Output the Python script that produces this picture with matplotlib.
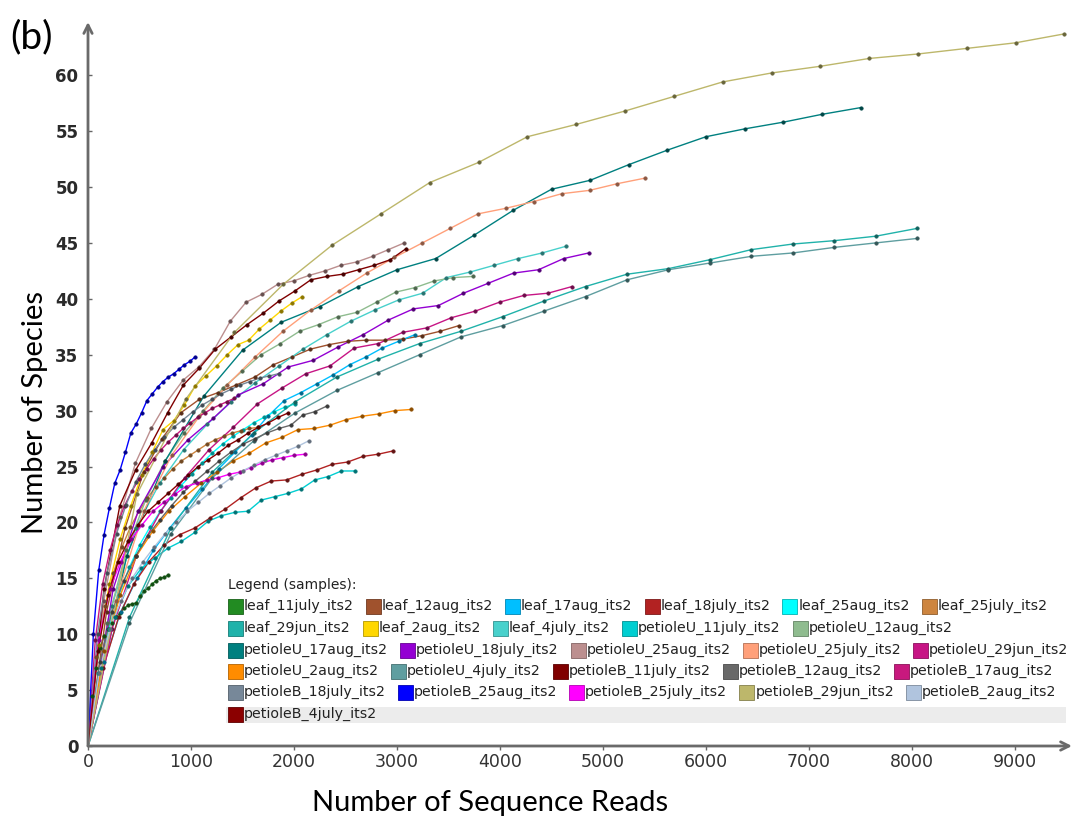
import numpy as np
import matplotlib
matplotlib.use("Agg")
import matplotlib.pyplot as plt
from matplotlib.patches import Rectangle
from matplotlib.colors import to_rgb

# sample names, legend colours and rarefaction depth (max reads) per sample
names = ["leaf_11july_its2", "leaf_12aug_its2", "leaf_17aug_its2", "leaf_18july_its2",
         "leaf_25aug_its2", "leaf_25july_its2", "leaf_29jun_its2", "leaf_2aug_its2",
         "leaf_4july_its2", "petioleU_11july_its2", "petioleU_12aug_its2",
         "petioleU_17aug_its2", "petioleU_18july_its2", "petioleU_25aug_its2",
         "petioleU_25july_its2", "petioleU_29jun_its2", "petioleU_2aug_its2",
         "petioleU_4july_its2", "petioleB_11july_its2", "petioleB_12aug_its2",
         "petioleB_17aug_its2", "petioleB_18july_its2", "petioleB_25aug_its2",
         "petioleB_25july_its2", "petioleB_29jun_its2", "petioleB_2aug_its2",
         "petioleB_4july_its2"]
colors = ["#228B22", "#A0522D", "#00BFFF", "#B22222", "#00FFFF", "#CD853F", "#20B2AA",
          "#FFD700", "#48D1CC", "#00CED1", "#8FBC8F", "#008080", "#9400D3", "#BC8F8F",
          "#FFA07A", "#C71585", "#FF8C00", "#5F9EA0", "#800000", "#696969", "#C8197E",
          "#778899", "#0000FF", "#FF00FF", "#BDB76B", "#B0C4DE", "#8B0000"]
depths = [780, 3600, 3175, 2965, 2010, 1650, 8050, 2080, 4640, 2590, 3735, 7500, 4860,
          3070, 5410, 4700, 3135, 8050, 3090, 2317, 1420, 1850, 1040, 2107, 9480, 2143, 1945]

# species observed at each of the 20 rarefaction steps
leaf_11july = [4.5, 7.0, 8.8, 9.8, 10.5, 11.0, 11.5, 11.9, 12.3, 12.6, 12.7, 12.8, 13.4, 13.9, 14.1, 14.5, 14.8, 15.0, 15.1, 15.3]
leaf_12aug = [12.0, 19.5, 24.5, 27.5, 29.8, 31.0, 31.6, 32.3, 33.0, 34.1, 34.8, 35.5, 35.9, 36.2, 36.3, 36.3, 36.4, 36.7, 37.1, 37.6]
leaf_17aug = [7.5, 12.0, 15.0, 17.5, 19.5, 21.3, 23.0, 24.8, 26.3, 27.8, 29.5, 30.9, 31.6, 32.4, 33.2, 34.1, 34.8, 35.6, 36.2, 36.8]
leaf_18july = [7.0, 11.5, 14.5, 16.5, 18.0, 18.9, 19.5, 20.4, 21.2, 22.2, 23.1, 23.7, 23.8, 24.3, 24.7, 25.2, 25.4, 25.9, 26.1, 26.4]
leaf_25aug = [6.5, 10.5, 13.5, 16.0, 18.0, 19.6, 21.0, 22.2, 23.3, 24.3, 25.3, 26.2, 27.0, 27.7, 28.3, 28.9, 29.4, 29.9, 30.3, 30.6]
leaf_25july = [8.0, 12.5, 15.5, 17.8, 19.6, 21.0, 22.2, 23.2, 24.0, 24.8, 25.5, 26.0, 26.5, 27.0, 27.4, 27.7, 28.0, 28.2, 28.4, 28.5]
leaf_29jun = [11.5, 19.5, 24.5, 28.0, 30.8, 33.0, 34.6, 36.0, 37.1, 38.4, 39.8, 41.1, 42.2, 42.7, 43.5, 44.4, 44.9, 45.2, 45.6, 46.3]
leaf_2aug = [9.0, 14.5, 18.5, 21.5, 24.2, 26.3, 28.3, 29.1, 30.5, 32.2, 33.1, 34.0, 35.0, 35.9, 36.3, 37.3, 38.1, 38.9, 39.6, 40.2]
leaf_4july = [12.5, 19.5, 23.5, 26.5, 28.8, 30.8, 32.5, 34.0, 35.5, 36.8, 38.0, 39.0, 39.9, 40.5, 41.9, 42.4, 43.0, 43.6, 44.1, 44.7]
petioleU_11july = [7.0, 11.5, 14.3, 15.9, 16.8, 17.7, 18.3, 19.1, 20.1, 20.6, 20.9, 21.0, 22.0, 22.3, 22.6, 23.0, 23.8, 24.1, 24.6, 24.6]
petioleU_12aug = [11.0, 17.5, 22.0, 25.5, 28.0, 30.0, 32.0, 33.5, 35.0, 36.0, 37.1, 37.7, 38.4, 38.8, 39.7, 40.6, 41.0, 41.6, 41.9, 42.0]
petioleU_17aug = [17.0, 25.5, 31.3, 35.4, 37.9, 39.3, 41.1, 42.6, 43.6, 45.7, 47.9, 49.8, 50.6, 52.0, 53.3, 54.5, 55.2, 55.8, 56.5, 57.1]
petioleU_18july = [14.0, 21.0, 25.0, 27.4, 29.3, 31.4, 32.4, 33.9, 34.5, 35.7, 36.8, 38.1, 39.1, 39.4, 40.5, 41.4, 42.3, 42.6, 43.6, 44.1]
petioleU_25aug = [13.0, 20.5, 25.3, 28.4, 30.8, 32.7, 33.9, 35.5, 38.0, 39.7, 40.4, 41.3, 41.6, 42.1, 42.5, 43.0, 43.3, 43.8, 44.4, 45.0]
petioleU_25july = [13.0, 21.0, 26.0, 29.5, 32.3, 34.8, 37.1, 39.0, 40.7, 42.3, 43.7, 45.0, 46.3, 47.6, 48.1, 48.7, 49.4, 49.7, 50.3, 50.8]
petioleU_29jun = [10.5, 17.0, 21.0, 24.0, 26.5, 28.5, 30.6, 32.0, 33.3, 34.0, 35.6, 36.0, 37.0, 37.4, 38.3, 38.9, 39.7, 40.3, 40.5, 41.1]
petioleU_2aug = [8.5, 13.5, 17.0, 19.2, 21.0, 22.3, 23.5, 24.5, 25.5, 26.2, 27.1, 27.6, 28.3, 28.4, 28.7, 29.2, 29.5, 29.7, 30.0, 30.1]
petioleU_4july = [11.0, 19.0, 24.0, 27.3, 29.8, 31.8, 33.4, 35.0, 36.6, 37.6, 38.9, 40.2, 41.7, 42.6, 43.2, 43.8, 44.1, 44.6, 45.0, 45.4]
petioleB_11july = [14.0, 21.5, 24.7, 27.1, 29.8, 32.3, 33.8, 35.5, 36.6, 37.7, 38.7, 39.8, 40.7, 41.7, 42.0, 42.2, 42.6, 43.0, 43.5, 44.5]
petioleB_12aug = [7.5, 12.0, 14.8, 17.0, 18.8, 20.2, 21.5, 22.7, 23.7, 24.6, 25.5, 26.3, 27.0, 27.5, 28.0, 28.4, 28.7, 29.6, 29.9, 30.4]
petioleB_17aug = [9.5, 14.5, 17.5, 19.8, 21.5, 22.8, 23.9, 24.8, 25.7, 26.5, 27.2, 27.8, 28.4, 28.9, 29.4, 29.8, 30.2, 30.5, 30.8, 31.1]
petioleB_18july = [10.0, 15.5, 19.0, 21.6, 23.6, 25.2, 26.5, 27.6, 28.5, 29.2, 29.9, 30.5, 31.0, 31.5, 31.9, 32.3, 32.6, 32.9, 33.1, 33.3]
petioleB_25aug = [10.0, 15.7, 18.9, 21.3, 23.5, 24.7, 26.3, 28.0, 28.8, 29.8, 30.9, 31.5, 32.1, 32.6, 33.0, 33.3, 33.7, 34.1, 34.4, 34.8]
petioleB_25july = [9.5, 14.0, 16.5, 18.5, 19.8, 21.0, 21.8, 22.5, 23.2, 23.5, 23.8, 24.0, 24.3, 24.5, 24.9, 25.3, 25.6, 25.8, 26.0, 26.1]
petioleB_29jun = [22.5, 31.0, 37.0, 41.3, 44.8, 47.6, 50.4, 52.2, 54.5, 55.6, 56.8, 58.1, 59.4, 60.2, 60.8, 61.5, 61.9, 62.4, 62.9, 63.7]
petioleB_2aug = [6.5, 10.5, 13.0, 15.0, 16.5, 17.8, 19.0, 20.0, 21.0, 21.8, 22.6, 23.3, 24.0, 24.6, 25.1, 25.6, 26.0, 26.4, 26.8, 27.3]
petioleB_4july = [8.5, 13.5, 16.5, 18.3, 19.8, 21.0, 21.8, 22.6, 23.4, 24.2, 25.0, 25.6, 26.2, 26.9, 27.4, 28.0, 28.5, 28.9, 29.4, 29.8]

species = [leaf_11july, leaf_12aug, leaf_17aug, leaf_18july, leaf_25aug, leaf_25july,
           leaf_29jun, leaf_2aug, leaf_4july, petioleU_11july, petioleU_12aug,
           petioleU_17aug, petioleU_18july, petioleU_25aug, petioleU_25july,
           petioleU_29jun, petioleU_2aug, petioleU_4july, petioleB_11july,
           petioleB_12aug, petioleB_17aug, petioleB_18july, petioleB_25aug,
           petioleB_25july, petioleB_29jun, petioleB_2aug, petioleB_4july]

x_ticks = list(range(0, 10000, 1000))
y_ticks = list(range(0, 65, 5))
legend_rows = [6, 5, 5, 5, 5, 1]

W, H = 1075, 823
fig = plt.figure(figsize=(W / 100, H / 100), dpi=100)
ax = fig.add_axes([88 / W, 1 - 746 / H, 984 / W, 724 / H])
ax.set_xlim(0, 9553)
ax.set_ylim(0, 64.76)

for col, depth, ys in zip(colors, depths, species):
    xs = np.linspace(0, depth, len(ys) + 1)
    yy = [0] + ys
    dark = tuple(c * 0.55 for c in to_rgb(col))
    ax.plot(xs, yy, color=col, lw=1.0, zorder=2)
    ax.plot(xs[1:], yy[1:], "o", ms=2.6, mfc=dark, mec=dark, mew=0.3, zorder=3)

# axes with arrow heads
for s in ax.spines.values():
    s.set_visible(False)
arrow = dict(arrowstyle="->,head_width=0.3,head_length=0.6", color="#6a6a6a", lw=2,
             shrinkA=0, shrinkB=0)
ax.annotate("", xy=(0, 1), xytext=(0, 0), xycoords="axes fraction", arrowprops=arrow,
            annotation_clip=False)
ax.annotate("", xy=(1, 0), xytext=(0, 0), xycoords="axes fraction", arrowprops=arrow,
            annotation_clip=False)

ax.set_xticks(x_ticks)
ax.set_xticklabels([str(v) for v in x_ticks], fontsize=12.5, color="#333333",
                   family=["Liberation Sans Narrow", "DejaVu Sans"])
ax.set_yticks(y_ticks)
ax.set_yticklabels([str(v) for v in y_ticks], fontsize=12, fontweight="bold", color="#2a2a2a")
ax.tick_params(axis="x", direction="out", length=3, width=1, color="#666666", pad=2)
ax.tick_params(axis="y", direction="in", length=3, width=1, color="#666666", pad=7)

# axis titles and panel letter
fig.text(35 / W, 1 - 412 / H, "Number of Species", rotation=90, ha="center", va="center",
         fontsize=21, family="Lato")
fig.text(490 / W, 1 - 803 / H, "Number of Sequence Reads", ha="center", va="center",
         fontsize=21, family="Lato")
fig.text(10 / W, 1 - 37 / H, "(b)", ha="left", va="center", fontsize=28, family="Lato")

# legend drawn as a flow of swatches
renderer = fig.canvas.get_renderer()
fig.add_artist(Rectangle((225 / W, 1 - 724 / H), 841 / W, 150 / H,
                         transform=fig.transFigure, facecolor="white", edgecolor="none",
                         zorder=5))
fig.add_artist(Rectangle((226 / W, 1 - 723 / H), 840 / W, 16 / H,
                         transform=fig.transFigure, facecolor="#ececec", edgecolor="none",
                         zorder=5))
fig.text(228 / W, 1 - 585 / H, "Legend (samples):", ha="left", va="center", fontsize=10,
         color="#222222", zorder=6)
row_y = [606, 628, 650, 671, 692, 714]
idx = 0
for r, n in enumerate(legend_rows):
    x = 228
    yc = row_y[r]
    for _ in range(n):
        col = colors[idx]
        edge = tuple(c * 0.7 for c in to_rgb(col))
        fig.add_artist(Rectangle((x / W, 1 - (yc + 7.5) / H), 15 / W, 15 / H,
                                 transform=fig.transFigure, facecolor=col, edgecolor=edge,
                                 lw=0.6, zorder=6))
        t = fig.text((x + 16) / W, 1 - yc / H, names[idx], ha="left", va="center",
                     fontsize=10.2, color="#222222", zorder=6)
        w = t.get_window_extent(renderer).width
        x = x + 17 + w + 11
        idx += 1

fig.savefig("out.png", dpi=100)
